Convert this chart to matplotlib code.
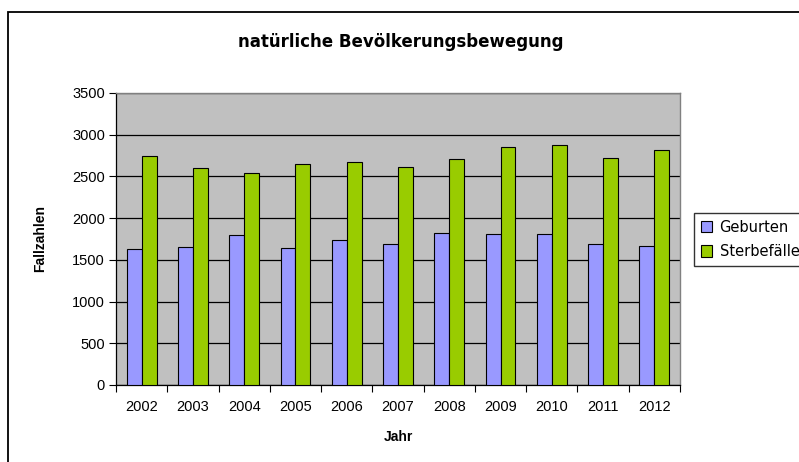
import matplotlib
matplotlib.use("Agg")
import matplotlib.pyplot as plt
import matplotlib.patches as mpatches
import numpy as np

years = ["2002", "2003", "2004", "2005", "2006", "2007", "2008", "2009", "2010", "2011", "2012"]
geburten = [1628, 1656, 1796, 1644, 1740, 1688, 1824, 1808, 1808, 1688, 1672]
sterbefaelle = [2740, 2596, 2540, 2652, 2672, 2612, 2708, 2848, 2876, 2724, 2820]
yticks = [0, 500, 1000, 1500, 2000, 2500, 3000, 3500]

W, H = 799, 462
fig = plt.figure(figsize=(W / 100, H / 100), dpi=100)
fig.patch.set_facecolor("white")

ax = fig.add_axes([116 / W, (H - 385) / H, (680 - 116) / W, (385 - 93) / H])
ax.set_facecolor("#C0C0C0")

x = np.arange(len(years))
bw = 0.29
ax.bar(x - bw / 2, geburten, bw, color="#9999FF", edgecolor="black", linewidth=0.8,
       label="Geburten", zorder=3)
ax.bar(x + bw / 2, sterbefaelle, bw, color="#99CC00", edgecolor="black", linewidth=0.8,
       label="Sterbefälle", zorder=3)

ax.set_xlim(-0.5, len(years) - 0.5)
ax.set_ylim(0, 3500)
ax.set_yticks(yticks)
ax.set_yticklabels([str(v) for v in yticks], fontfamily="Liberation Sans", fontsize=10.5)
ax.yaxis.grid(True, color="black", linewidth=0.9, zorder=1)
ax.set_axisbelow(True)

ax.set_xticks(np.arange(len(years) + 1) - 0.5)
ax.set_xticklabels([])
ax.set_xticks(x, minor=True)
ax.set_xticklabels(years, minor=True, fontfamily="Liberation Sans", fontsize=10.5)
ax.tick_params(axis="x", which="major", length=5, width=0.8, direction="out")
ax.tick_params(axis="x", which="minor", length=0, pad=11)
ax.tick_params(axis="y", length=5, width=0.8, direction="out", pad=3)

for s in ["top", "right"]:
    ax.spines[s].set_color("#808080")
    ax.spines[s].set_linewidth(1)
for s in ["left", "bottom"]:
    ax.spines[s].set_color("black")
    ax.spines[s].set_linewidth(0.9)

ax.set_xlabel("Jahr", fontfamily="Liberation Sans", fontweight="bold", fontsize=10, labelpad=11)
ax.set_ylabel("Fallzahlen", fontfamily="Liberation Sans", fontweight="bold", fontsize=10, labelpad=18)

fig.text(401 / W, 1 - 42 / H, "natürliche Bevölkerungsbewegung", ha="center", va="center",
         fontfamily="DejaVu Sans", fontweight="bold", fontsize=12)

leg = fig.legend(loc="upper left", bbox_to_anchor=(694 / W, 1 - 213 / H),
                 bbox_transform=fig.transFigure, frameon=True, fancybox=False,
                 edgecolor="black", prop={"family": "DejaVu Sans", "size": 10.5},
                 handlelength=0.8, handleheight=0.8, handletextpad=0.5,
                 borderpad=0.45, labelspacing=0.65, borderaxespad=0)
leg.get_frame().set_linewidth(1)

border = mpatches.Rectangle((8 / W, -0.05), 1.0, 1 - 12 / H + 0.05, transform=fig.transFigure,
                            fill=False, edgecolor="black", linewidth=1.3)
fig.patches.append(border)

fig.savefig("out.png", dpi=100, facecolor="white")
